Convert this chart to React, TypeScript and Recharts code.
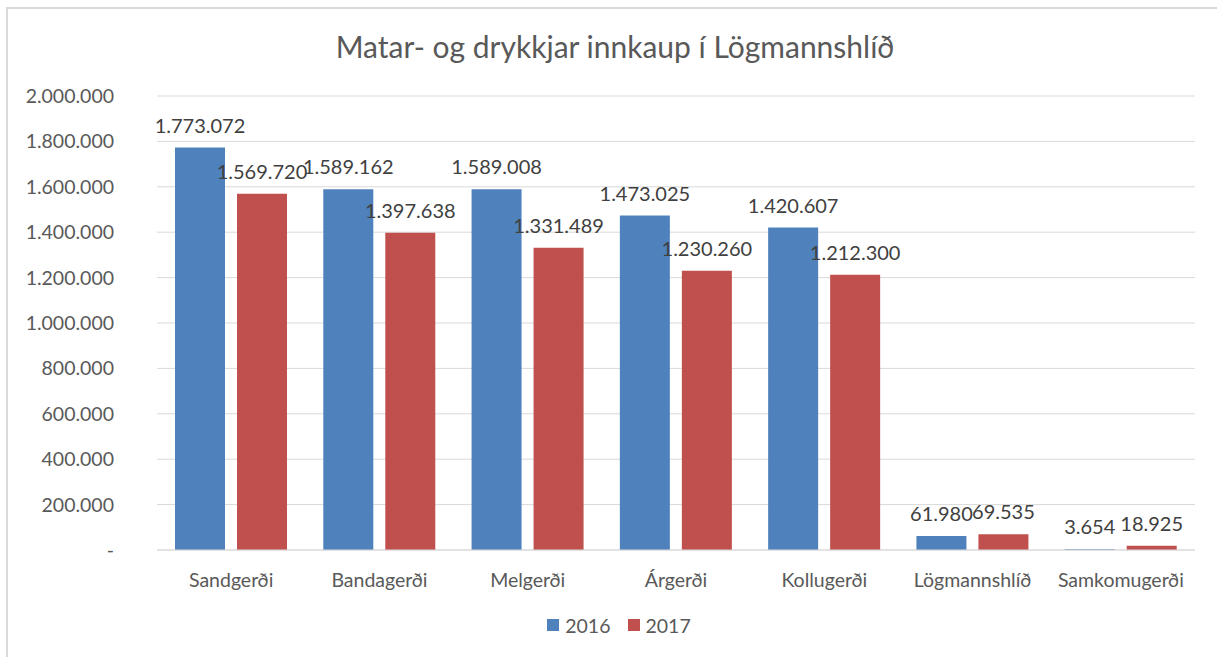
import React from 'react';
import { BarChart, Bar, XAxis, YAxis, CartesianGrid, Legend, LabelList } from 'recharts';

const categories = ['Sandgerði', 'Bandagerði', 'Melgerði', 'Árgerði', 'Kollugerði', 'Lögmannshlíð', 'Samkomugerði'];
const values2016 = [1773072, 1589162, 1589008, 1473025, 1420607, 61980, 3654];
const values2017 = [1569720, 1397638, 1331489, 1230260, 1212300, 69535, 18925];
const yTicks = [0, 200000, 400000, 600000, 800000, 1000000, 1200000, 1400000, 1600000, 1800000, 2000000];

const data = categories.map((name, i) => ({ name, y2016: values2016[i], y2017: values2017[i] }));

const FONT = 'Lato, "Open Sans", sans-serif';
const BLUE = '#4F81BD';
const RED = '#C0504D';

const fmt = (v: number) => {
  if (v === 0) return '-';
  return String(Math.round(v)).replace(/\B(?=(\d{3})+(?!\d))/g, '.');
};

const LegendContent = () => (
  <div style={{ display: 'flex', justifyContent: 'center', alignItems: 'center', fontFamily: FONT, fontSize: 19.5, color: '#595959', height: 24, paddingLeft: 42 }}>
    <span style={{ display: 'inline-block', width: 12, height: 12, background: BLUE, marginRight: 6 }} />
    <span style={{ marginRight: 17 }}>2016</span>
    <span style={{ display: 'inline-block', width: 12, height: 12, background: RED, marginRight: 6 }} />
    <span>2017</span>
  </div>
);

export default function App() {
  return (
    <div style={{ position: 'absolute', left: 0, top: 0, width: 1217, height: 657, background: '#fff', overflow: 'hidden' }}>
      <div style={{ position: 'absolute', left: 6, top: 7, width: 1220, height: 660, borderLeft: '2px solid #d9d9d9', borderTop: '2px solid #d9d9d9' }} />
      <div style={{ position: 'absolute', left: 0, top: 27, width: 1230, textAlign: 'center', fontFamily: FONT, fontSize: 30, color: '#595959', lineHeight: '38px' }}>
        Matar- og drykkjar innkaup í Lögmannshlíð
      </div>
      <div style={{ position: 'absolute', left: 0, top: 0 }}>
        <BarChart width={1217} height={657} data={data} margin={{ top: 96, right: 22, bottom: 20, left: 1 }} barSize={50} barGap={12}>
          <CartesianGrid vertical={false} stroke="#d9d9d9" strokeWidth={1} />
          <XAxis
            dataKey="name"
            axisLine={{ stroke: '#d9d9d9' }}
            tickLine={false}
            tickSize={0}
            tickMargin={23}
            height={63}
            interval={0}
            tick={{ fill: '#595959', fontSize: 19.5, fontFamily: FONT }}
          />
          <YAxis
            domain={[0, 2000000]}
            ticks={yTicks}
            tickFormatter={fmt}
            axisLine={false}
            tickLine={false}
            tickSize={0}
            tickMargin={43}
            width={156}
            interval={0}
            tick={{ fill: '#595959', fontSize: 19.5, fontFamily: FONT }}
          />
          <Legend verticalAlign="bottom" height={24} content={LegendContent} />
          <Bar dataKey="y2016" name="2016" fill={BLUE} isAnimationActive={false}>
            <LabelList dataKey="y2016" position="top" offset={15} formatter={(v: any) => fmt(Number(v))} style={{ fill: '#404040', fontSize: 20, fontFamily: FONT }} />
          </Bar>
          <Bar dataKey="y2017" name="2017" fill={RED} isAnimationActive={false}>
            <LabelList dataKey="y2017" position="top" offset={15} formatter={(v: any) => fmt(Number(v))} style={{ fill: '#404040', fontSize: 20, fontFamily: FONT }} />
          </Bar>
        </BarChart>
      </div>
    </div>
  );
}
